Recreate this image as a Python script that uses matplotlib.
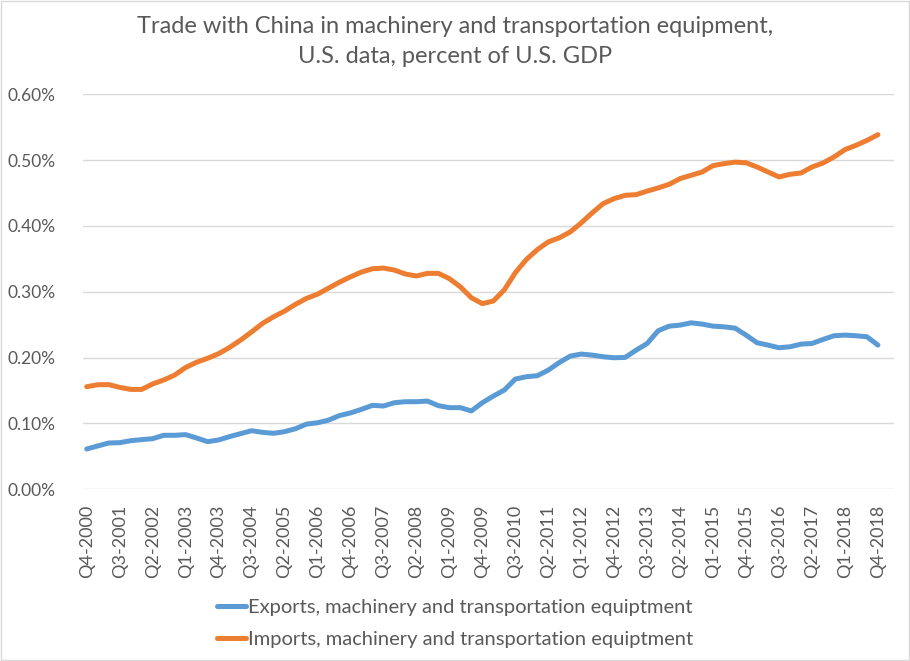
import numpy as np
import matplotlib
matplotlib.use("Agg")
import matplotlib.pyplot as plt
from matplotlib.patches import Rectangle

plt.rcParams["font.family"] = ["Lato", "DejaVu Sans"]

# quarters Q4-2000 .. Q4-2018
quarters = ["Q4-2000"] + [f"Q{q}-{y}" for y in range(2001, 2019) for q in range(1, 5)]

# percent of U.S. GDP
exports = [0.0612, 0.0658, 0.0703, 0.0708, 0.0738, 0.0754, 0.0769, 0.082, 0.082, 0.083,
           0.0779, 0.0723, 0.0749, 0.080, 0.0845, 0.089, 0.0865, 0.085, 0.0875, 0.092,
           0.099, 0.101, 0.105, 0.112, 0.116, 0.1214, 0.1275, 0.1265, 0.1315, 0.133,
           0.133, 0.134, 0.127, 0.124, 0.124, 0.119, 0.1315, 0.1416, 0.1507, 0.1674,
           0.171, 0.1725, 0.181, 0.1925, 0.2023, 0.2054, 0.2038, 0.2013, 0.1998, 0.2003,
           0.2114, 0.2215, 0.2408, 0.2478, 0.2494, 0.2529, 0.2509, 0.2478, 0.2468, 0.2448,
           0.2342, 0.2226, 0.219, 0.215, 0.2165, 0.2205, 0.2215, 0.2276, 0.2332, 0.2342,
           0.2332, 0.2317, 0.219]
imports = [0.1558, 0.1588, 0.159, 0.1548, 0.1517, 0.1517, 0.160, 0.166, 0.1735, 0.185,
           0.193, 0.199, 0.206, 0.2155, 0.2266, 0.239, 0.252, 0.262, 0.2706, 0.281,
           0.290, 0.2964, 0.3055, 0.3146, 0.3227, 0.330, 0.335, 0.336, 0.333, 0.327,
           0.324, 0.328, 0.328, 0.320, 0.3075, 0.291, 0.282, 0.286, 0.303, 0.329,
           0.349, 0.364, 0.3758, 0.382, 0.391, 0.4047, 0.420, 0.434, 0.4416, 0.4466,
           0.4476, 0.453, 0.4578, 0.4633, 0.472, 0.477, 0.482, 0.4917, 0.4947, 0.497,
           0.496, 0.4896, 0.482, 0.4745, 0.4785, 0.4805, 0.4896, 0.4957, 0.5048, 0.516,
           0.5225, 0.530, 0.5387]
y_ticks = [0.0, 0.1, 0.2, 0.3, 0.4, 0.5, 0.6]

TITLE = "Trade with China in machinery and transportation equipment,\nU.S. data, percent of U.S. GDP"
LABEL_EXP = "Exports, machinery and transportation equiptment"
LABEL_IMP = "Imports, machinery and transportation equiptment"

grey = "#595959"
grid = "#D9D9D9"

fig = plt.figure(figsize=(9.10, 6.61), dpi=100)
ax = fig.add_axes([0.0912, 0.2598, 0.8912, 0.5975])

x = np.arange(len(quarters))
ax.plot(x, exports, color="#5B9BD5", lw=3.6, solid_capstyle="round", label=LABEL_EXP)
ax.plot(x, imports, color="#ED7D31", lw=3.6, solid_capstyle="round", label=LABEL_IMP)

ax.set_xlim(-0.34, 73.46)
ax.set_ylim(0, 0.6)
ax.set_yticks(y_ticks)
ax.set_yticklabels([f"{v:.2f}%" for v in y_ticks], color=grey, fontsize=12.5)
ax.set_xticks(x[::3])
ax.set_xticklabels(quarters[::3], rotation=90, color=grey, fontsize=13)
ax.tick_params(axis="y", length=0, pad=20)
ax.tick_params(axis="x", length=0, pad=11)
ax.grid(axis="y", color=grid, lw=1)
ax.set_axisbelow(True)
for s in ax.spines.values():
    s.set_visible(False)

fig.text(0.5, 0.937, TITLE, ha="center", va="center", fontsize=17, color=grey,
         linespacing=1.55)

fig.legend(loc="upper center", bbox_to_anchor=(0.5, 0.121), ncol=1, frameon=False,
           fontsize=14.5, handlelength=1.4, handletextpad=0.1, labelcolor=grey,
           labelspacing=0.75)

fig.patches.append(Rectangle((0.001, 0.001), 0.998, 0.998, transform=fig.transFigure,
                             fill=False, edgecolor=grid, lw=1))

fig.savefig("out.png", dpi=100)
